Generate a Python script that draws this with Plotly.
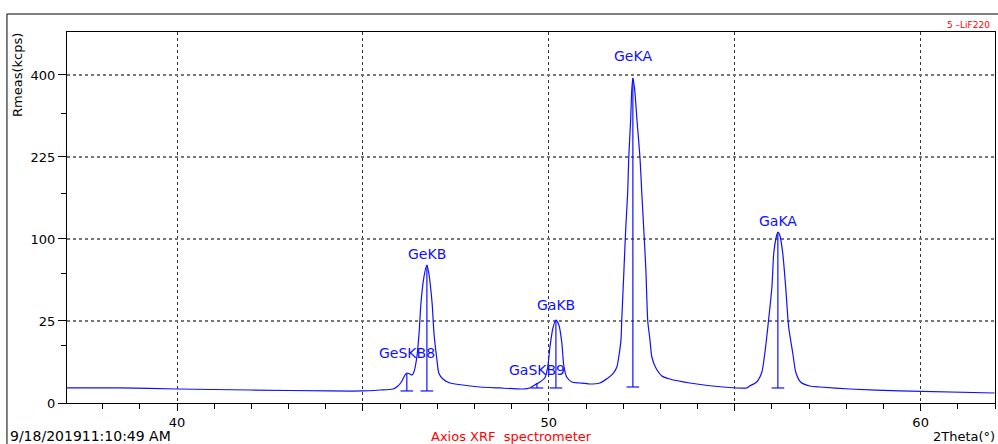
import numpy as np
import plotly.graph_objects as go

# Spectrum trace: 2Theta (deg) and intensity (kcps)
two_theta = [37.04, 38.47, 40.00, 41.96, 44.11, 45.00, 45.46, 45.81, 45.94, 46.05,
             46.13, 46.18, 46.26, 46.32, 46.37, 46.45, 46.51, 46.56, 46.64, 46.72,
             46.77, 46.86, 46.91, 46.99, 47.04, 47.15, 47.34, 47.69, 48.15, 48.68,
             49.30, 49.49, 49.62, 49.76, 49.89, 49.97, 50.03, 50.11, 50.19, 50.27,
             50.35, 50.40, 50.48, 50.62, 50.83, 51.10, 51.37, 51.59, 51.72, 51.83,
             51.88, 51.94, 51.96, 52.02, 52.07, 52.12, 52.15, 52.20, 52.23, 52.26,
             52.31, 52.37, 52.45, 52.50, 52.55, 52.61, 52.66, 52.72, 52.77, 52.88,
             53.04, 53.25, 53.79, 54.68, 55.32, 55.40, 55.59, 55.73, 55.81, 55.89,
             56.00, 56.05, 56.13, 56.16, 56.21, 56.29, 56.37, 56.45, 56.56, 56.64,
             56.77, 57.02, 57.29, 58.09, 59.44, 61.99]
kcps = [0.84, 0.84, 0.73, 0.63, 0.54, 0.54, 0.63, 0.73, 1.07, 1.80,
        2.91, 3.35, 3.13, 2.91, 3.57, 7.87, 18.2, 37.2, 59.0, 70.8,
        62.8, 37.2, 18.2, 6.87, 3.35, 2.14, 1.49, 1.20, 0.95, 0.84,
        0.73, 0.84, 1.20, 1.64, 2.32, 4.82, 11.7, 20.9, 25.6, 22.6,
        13.4, 5.37, 2.51, 1.64, 1.49, 1.34, 1.49, 2.32, 3.13, 4.82,
        7.87, 14.8, 25.0, 65.8, 115.2, 164.0, 225.0, 297.8, 364.0, 392.7,
        364.0, 297.8, 225.0, 164.0, 115.2, 65.8, 25.0, 14.8, 7.87, 4.55,
        2.71, 2.14, 1.49, 0.95, 0.84, 1.07, 1.64, 3.57, 9.30, 21.5,
        50.0, 83.7, 104.9, 108.7, 104.9, 83.7, 50.0, 21.5, 9.30, 3.57,
        1.64, 1.07, 0.95, 0.73, 0.54, 0.37]

# Peak identification markers
peak_names = ["GeSKB8", "GeKB", "GaSKB9", "GaKB", "GeKA", "GaKA"]
peak_pos = [46.18, 46.72, 49.68, 50.19, 52.26, 56.16]
peak_top = [3.35, 70.8, 1.49, 25.6, 392.7, 108.7]
peak_base = [0.54, 0.54, 0.84, 0.84, 0.95, 0.84]
label_gap = [13, 4, 6, 8, 15, 4]

y_tick_vals = [0, 25, 100, 225, 400]
y_minor_vals = [12.5, 62.5, 162.5, 312.5]
x_major = [40, 45, 50, 55, 60]
x_labels = ["40", "", "50", "", "60"]

BLUE = "#1010ff"

fig = go.Figure()
fig.add_trace(go.Scatter(x=two_theta, y=np.sqrt(kcps), mode="lines",
                         line=dict(color=BLUE, width=1.2, shape="spline", smoothing=0.6),
                         hoverinfo="skip"))

mx, my = [], []
half = 0.17
for p, t, b in zip(peak_pos, peak_top, peak_base):
    mx += [p, p, None, p - half, p + half, None]
    my += [np.sqrt(b), np.sqrt(t), None, np.sqrt(b), np.sqrt(b), None]
fig.add_trace(go.Scatter(x=mx, y=my, mode="lines",
                         line=dict(color=BLUE, width=1.2), hoverinfo="skip"))

for n, p, t, g in zip(peak_names, peak_pos, peak_top, label_gap):
    fig.add_annotation(x=p, y=np.sqrt(t), text=n, showarrow=False,
                       xanchor="center", yanchor="bottom", yshift=g - 3,
                       font=dict(family="DejaVu Sans", size=14, color=BLUE))

fig.update_xaxes(range=[37.04, 62.0], tickmode="array", tickvals=x_major,
                 ticktext=x_labels, ticks="outside", ticklen=7, tickcolor="black",
                 showgrid=True, gridcolor="#333", griddash="dot", gridwidth=1,
                 showline=True, linecolor="black", linewidth=1, mirror=True,
                 zeroline=False,
                 minor=dict(dtick=1, ticks="outside", ticklen=5, tickcolor="black",
                            showgrid=False),
                 tickfont=dict(family="DejaVu Sans", size=13, color="black"))
fig.update_yaxes(range=[0, 22.62], tickmode="array",
                 tickvals=list(np.sqrt(y_tick_vals)),
                 ticktext=[str(v) for v in y_tick_vals],
                 ticks="outside", ticklen=8, tickcolor="black",
                 showgrid=True, gridcolor="#777", griddash="dot", gridwidth=1.5,
                 showline=True, linecolor="black", linewidth=1, mirror=True,
                 zeroline=False,
                 minor=dict(tickvals=list(np.sqrt(y_minor_vals)), ticks="outside",
                            ticklen=5, tickcolor="black", showgrid=False),
                 tickfont=dict(family="DejaVu Sans", size=13, color="black"))

fig.add_annotation(xref="paper", yref="paper", x=-0.054, y=0.884,
                   text="Rmeas(kcps)", textangle=-90, showarrow=False,
                   xanchor="center", yanchor="middle",
                   font=dict(family="DejaVu Sans", size=13, color="black"))
fig.add_annotation(xref="paper", yref="paper", x=0.997, y=1.019,
                   text="5 –LiF220", showarrow=False, xanchor="right", yanchor="middle",
                   font=dict(family="DejaVu Sans", size=9, color="red"))
fig.add_annotation(xref="paper", yref="paper", x=-0.064, y=-0.090,
                   text="9/18/201911:10:49 AM", showarrow=False, xanchor="left",
                   yanchor="middle",
                   font=dict(family="DejaVu Sans", size=14, color="black"))
fig.add_annotation(xref="paper", yref="paper", x=0.4795, y=-0.090,
                   text="Axios XRF  spectrometer", showarrow=False, xanchor="center",
                   yanchor="middle",
                   font=dict(family="DejaVu Sans", size=13, color="red"))
fig.add_annotation(xref="paper", yref="paper", x=1.0025, y=-0.090,
                   text="2Theta(°)", showarrow=False, xanchor="right",
                   yanchor="middle",
                   font=dict(family="DejaVu Sans", size=13, color="black"))

# outer frame
fig.add_shape(type="rect", xref="paper", yref="paper",
              x0=-0.0647, x1=1.01, y0=-0.12, y1=1.0485,
              line=dict(color="black", width=1))

fig.update_layout(width=998, height=444, showlegend=False,
                  margin=dict(l=67, r=3, t=32, b=41),
                  plot_bgcolor="white", paper_bgcolor="white")

fig.write_html("out.html")
